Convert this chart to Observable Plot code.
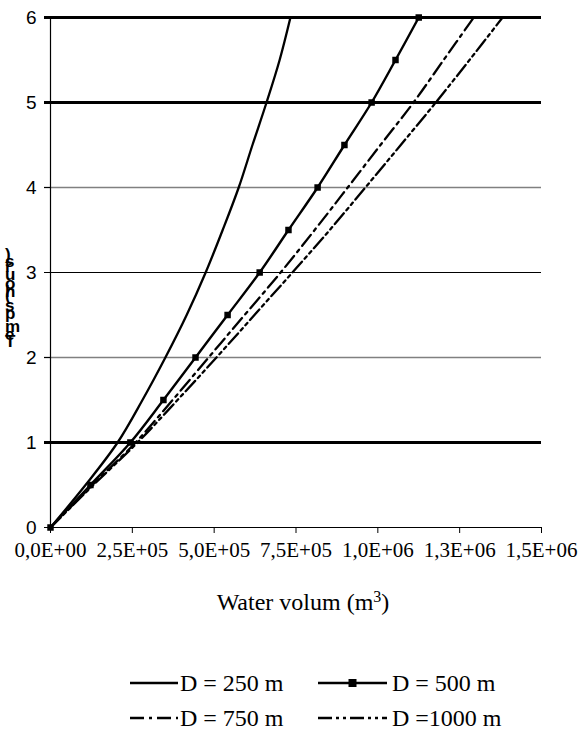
<!DOCTYPE html>
<html>
<head>
<meta charset="utf-8">
<script src="https://cdn.jsdelivr.net/npm/d3@7"></script>
<script src="https://cdn.jsdelivr.net/npm/@observablehq/plot@0.6"></script>
<style>
  body { margin: 0; background: #fff; }
  #wrap { position: relative; width: 582px; height: 732px; background: #fff; overflow: hidden; }
  #chart { position: absolute; left: 0; top: 0; }
  #ylab { position: absolute; left: 0; top: 0; }
  #xtitle { position: absolute; top: 588px; left: 12px; width: 582px; text-align: center; font-family: "Liberation Serif", "Times New Roman", serif; font-size: 24px; line-height: 28px; color: #000; }
  #xtitle sup { font-size: 16px; vertical-align: 8px; line-height: 0; }
  .leg { position: absolute; font-family: "Liberation Serif", "Times New Roman", serif; font-size: 24px; line-height: 28px; color: #000; white-space: nowrap; }
</style>
</head>
<body>
<div id="wrap">
  <div id="chart"></div>
  <svg id="ylab" width="40" height="732"></svg>
  <div id="xtitle">Water volum (m<sup>3</sup>)</div>
  <div id="legend"></div>
</div>
<script>
// ---- data (hours vs. water volume, m3) ----
const hours = [0, 0.5, 1, 1.5, 2, 2.5, 3, 3.5, 4, 4.5, 5, 5.5, 6];
const volD250  = [0, 107000, 205000, 281000, 351000, 416000, 474000, 526000, 575000, 617000, 660000, 700000, 733000];
const volD500  = [0, 122000, 244000, 345000, 443000, 541000, 639000, 727000, 816000, 898000, 981000, 1054000, 1125000];
const volD750  = [0, 128000, 260000, 373000, 483000, 593000, 703000, 807000, 908000, 1008000, 1109000, 1201000, 1293000];
const volD1000 = [0, 131000, 266000, 388000, 507000, 623000, 739000, 853000, 962000, 1070000, 1177000, 1280000, 1381000];
const seriesNames = ["D = 250 m", "D = 500 m", "D = 750 m", "D =1000 m"];
const xTicks = [0, 250000, 500000, 750000, 1000000, 1250000, 1500000];
const xTickLabels = ["0,0E+00", "2,5E+05", "5,0E+05", "7,5E+05", "1,0E+06", "1,3E+06", "1,5E+06"];
const yTicks = [0, 1, 2, 3, 4, 5, 6];
const yLabel = "Temps (hours)";

const toRows = (vols, name) => hours.map((h, i) => ({h, v: vols[i], s: name}));
const d250 = toRows(volD250, seriesNames[0]);
const d500 = toRows(volD500, seriesNames[1]);
const d750 = toRows(volD750, seriesNames[2]);
const d1000 = toRows(volD1000, seriesNames[3]);

const gridStroke = y => (y === 2 || y === 4) ? "#808080" : "#000";
const gridWidth = y => (y === 1 || y === 5 || y === 6) ? 3 : (y === 3 ? 1 : 1.5);

const dash750 = "14,5,3,5";
const dash1000 = "14,4,3,4,3,4";

const serif = '"Liberation Serif", "Times New Roman", serif';
const sans = '"Liberation Sans", Arial, sans-serif';

const plot = Plot.plot({
  width: 582,
  height: 565,
  marginLeft: 50,
  marginRight: 41,
  marginTop: 17,
  marginBottom: 38,
  x: {domain: [0, 1500000]},
  y: {domain: [0, 6]},
  style: {background: "#fff", color: "#000", overflow: "visible"},
  marks: [
    Plot.ruleY(yTicks.filter(t => t > 0), {y: d => d, stroke: gridStroke, strokeWidth: gridWidth, insetLeft: -6}),
    Plot.ruleY([0], {stroke: "#000", strokeWidth: 1}),
    Plot.ruleX([0], {stroke: "#000", strokeWidth: 1.2}),
    Plot.axisY({ticks: yTicks, tickSize: 6, tickPadding: 8, label: null, tickFormat: d => String(d)}),
    Plot.axisX({ticks: xTicks, tickSize: 6, tickPadding: 9, label: null, tickFormat: d => xTickLabels[xTicks.indexOf(d)]}),
    Plot.line(d250, {x: "v", y: "h", stroke: "#000", strokeWidth: 2.3, curve: "catmull-rom"}),
    Plot.line(d500, {x: "v", y: "h", stroke: "#000", strokeWidth: 2.4, curve: "catmull-rom"}),
    Plot.dot(d500, {x: "v", y: "h", symbol: "square", r: 2.8, fill: "#000", stroke: "#000"}),
    Plot.line(d750, {x: "v", y: "h", stroke: "#000", strokeWidth: 2.3, strokeDasharray: dash750, curve: "catmull-rom"}),
    Plot.line(d1000, {x: "v", y: "h", stroke: "#000", strokeWidth: 2.3, strokeDasharray: dash1000, curve: "catmull-rom"})
  ]
});
document.getElementById("chart").appendChild(plot);

// apply fonts to tick labels directly (inline styles)
plot.querySelectorAll("text").forEach(t => {
  const s = t.textContent.trim();
  if (xTickLabels.includes(s)) {
    t.style.fontFamily = serif;
    t.style.fontSize = "21px";
  } else if (yTicks.map(String).includes(s)) {
    t.style.fontFamily = sans;
    t.style.fontSize = "19px";
  }
});

// stacked y-axis label (one text element, upright glyphs going upward)
const yl = d3.select("#ylab");
const chars = Array.from(yLabel);
yl.append("text")
  .attr("transform", "translate(5,347) rotate(-90)")
  .attr("rotate", chars.map(() => 90).join(" "))
  .style("font-family", sans)
  .style("font-weight", "bold")
  .style("font-size", "17px")
  .attr("letter-spacing", -2)
  .attr("fill", "#000")
  .text(yLabel);

// legend
const leg = document.getElementById("legend");
const items = [
  {name: seriesNames[0], dash: null, marker: false, lx: 130, w: 48, tx: 180, y: 683},
  {name: seriesNames[1], dash: null, marker: true, lx: 318, w: 69, tx: 392, y: 683},
  {name: seriesNames[2], dash: dash750, marker: false, lx: 130, w: 48, tx: 180, y: 718},
  {name: seriesNames[3], dash: dash1000, marker: false, lx: 318, w: 69, tx: 392, y: 718}
];
items.forEach(it => {
  const ns = "http://www.w3.org/2000/svg";
  const svg = document.createElementNS(ns, "svg");
  svg.setAttribute("width", 72); svg.setAttribute("height", 12);
  svg.style.position = "absolute";
  svg.style.left = it.lx + "px"; svg.style.top = (it.y - 6) + "px";
  const ln = document.createElementNS(ns, "line");
  ln.setAttribute("x1", 0); ln.setAttribute("x2", it.w); ln.setAttribute("y1", 6); ln.setAttribute("y2", 6);
  ln.setAttribute("stroke", "#000"); ln.setAttribute("stroke-width", 2.5);
  if (it.dash) ln.setAttribute("stroke-dasharray", it.dash);
  svg.appendChild(ln);
  if (it.marker) {
    const r = document.createElementNS(ns, "rect");
    r.setAttribute("x", it.w / 2 - 4); r.setAttribute("y", 2); r.setAttribute("width", 8); r.setAttribute("height", 8);
    r.setAttribute("fill", "#000");
    svg.appendChild(r);
  }
  leg.appendChild(svg);
  const t = document.createElement("div");
  t.className = "leg";
  t.textContent = it.name;
  t.style.left = it.tx + "px";
  t.style.top = (it.y - 14) + "px";
  leg.appendChild(t);
});
</script>
</body>
</html>
